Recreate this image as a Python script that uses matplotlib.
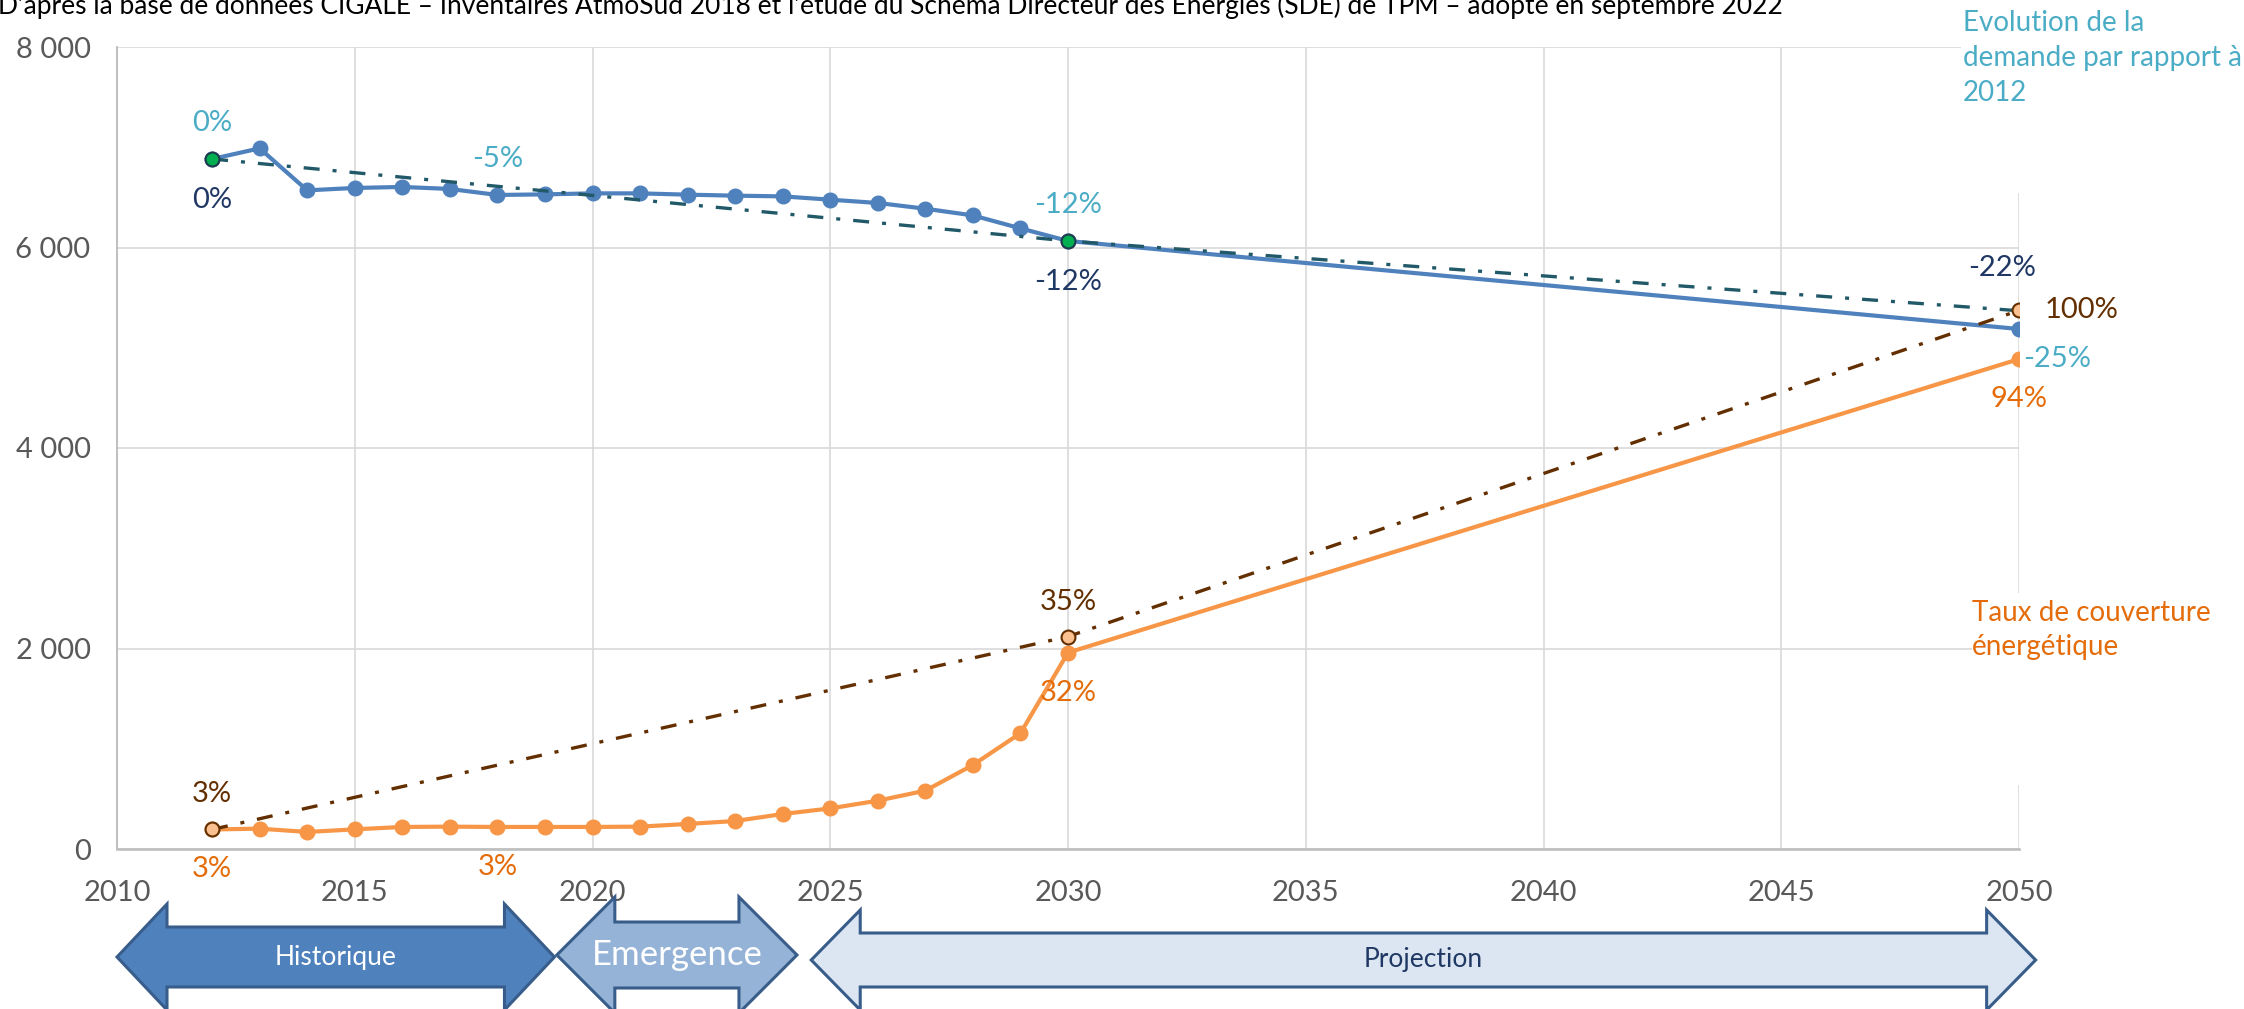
import matplotlib
matplotlib.use("Agg")
import matplotlib.pyplot as plt
from matplotlib.patches import Polygon, Rectangle
from matplotlib.ticker import FuncFormatter, MultipleLocator

plt.rcParams["font.family"] = ["Lato", "DejaVu Sans"]

# Data
years = [2012, 2013, 2014, 2015, 2016, 2017, 2018, 2019, 2020, 2021,
         2022, 2023, 2024, 2025, 2026, 2027, 2028, 2029, 2030, 2050]
demand = [6883, 6989, 6570, 6594, 6604, 6584, 6524, 6530, 6540, 6540,
          6527, 6517, 6510, 6477, 6444, 6387, 6320, 6191, 6065, 5187]
production = [195, 203, 170, 196, 220, 223, 220, 220, 220, 223,
              250, 279, 349, 405, 482, 582, 838, 1155, 1959, 4887]

target_years = [2012, 2030, 2050]
demand_target = [6883, 6065, 5369]
production_target = [195, 2119, 5372]

demand_labels = {2012: "0%", 2018: "-5%", 2030: "-12%", 2050: "-25%"}
demand_target_labels = {2012: "0%", 2030: "-12%", 2050: "-22%"}
production_labels = {2012: "3%", 2018: "3%", 2030: "32%", 2050: "94%"}
production_target_labels = {2012: "3%", 2030: "35%", 2050: "100%"}

phases = ["Historique", "Emergence", "Projection"]
phase_start = [2010.0, 2019.25, 2024.6]
phase_end = [2019.2, 2024.3, 2050.35]

title = ("D\u2019après la base de données CIGALE \u2013 Inventaires AtmoSud 2018 et l\u2019étude du "
         "Schéma Directeur des Energies (SDE) de TPM \u2013 adopté en septembre 2022")

W, H = 2244, 1009
fig = plt.figure(figsize=(W / 100, H / 100), dpi=100)
ax_left, ax_right, ax_top, ax_bottom = 117, 2019, 47, 849
ax = fig.add_axes([ax_left / W, 1 - ax_bottom / H,
                   (ax_right - ax_left) / W, (ax_bottom - ax_top) / H])

blue, orange = "#4F81BD", "#F79646"
teal, brown = "#215968", "#632F00"
light_blue, navy, dark_orange = "#4BACC6", "#203864", "#E46C0A"
dashdot = (0, (4.8, 3.9, 1.2, 3.9))
fs = 21

ax.plot(years, demand, color=blue, lw=3, marker="o", ms=10.5, zorder=3)
ax.plot(years, production, color=orange, lw=3, marker="o", ms=10.5, zorder=3)
ax.plot(target_years, demand_target, color=teal, lw=2.4, ls=dashdot, zorder=4,
        marker="o", ms=10, mfc="#00B050", mec="#1F3B4D", mew=1.5, markevery=[0, 1])
ax.plot(target_years, production_target, color=brown, lw=2.4, ls=dashdot, zorder=5,
        marker="o", ms=10, mfc="#FAC090", mec=brown, mew=1.5)

ax.set_xlim(2010, 2050)
ax.set_ylim(0, 8000)
ax.xaxis.set_major_locator(MultipleLocator(5))
ax.yaxis.set_major_locator(MultipleLocator(2000))
ax.yaxis.set_major_formatter(FuncFormatter(lambda v, p: f"{int(v):,}".replace(",", " ")))
ax.tick_params(length=0, labelsize=fs, labelcolor="#595959")
ax.tick_params(axis="y", pad=19)
ax.tick_params(axis="x", pad=22)
ax.grid(color="#D9D9D9", lw=1.2)
ax.set_axisbelow(True)
for side in ["top", "right"]:
    ax.spines[side].set_visible(False)
ax.spines["left"].set_color("#BFBFBF")
ax.spines["left"].set_linewidth(1.4)
ax.spines["bottom"].set_color("#BFBFBF")
ax.spines["bottom"].set_linewidth(1.9)


def put_labels(xs, ys, labels, color, offsets, ha="center"):
    for x, y in zip(xs, ys):
        if x in labels:
            dx, dy = offsets.get(x, offsets["default"])
            ax.annotate(labels[x], (x, y), xytext=(dx, dy), textcoords="offset pixels",
                        ha=ha, va="center", fontsize=fs, color=color, zorder=6)


put_labels(years, demand, demand_labels, light_blue, {"default": (0, 36)})
put_labels(target_years, demand_target, demand_target_labels, navy,
           {"default": (0, -41), 2050: (-17, 43)})
put_labels(years, production, production_labels, dark_orange, {"default": (0, -40)})
put_labels(target_years, production_target, production_target_labels, brown,
           {"default": (0, 35)})
for t in ax.texts:
    if t.get_text() == "-25%" and t.xy[0] == 2050:
        t.set_position((4, -30))
        t.set_ha("left")
    if t.get_text() == "100%":
        t.set_position((26, 0))
        t.set_ha("left")

# white boxes behind the side notes
fig.add_artist(Rectangle((1961 / W, 1 - 193 / H), 1, 193 / H, transform=fig.transFigure,
                         facecolor="white", edgecolor="none", zorder=1))
fig.add_artist(Rectangle((1972 / W, 1 - 785 / H), 1, (785 - 593) / H, transform=fig.transFigure,
                         facecolor="white", edgecolor="none", zorder=1))
fig.text(1963 / W, 1 - 58 / H, "Evolution de la\ndemande par rapport à\n2012",
         ha="left", va="center", fontsize=20, color=light_blue, linespacing=1.42, zorder=3)
fig.text(1972 / W, 1 - 630 / H, "Taux de couverture\nénergétique",
         ha="left", va="center", fontsize=20, color=dark_orange, linespacing=1.42, zorder=3)

fig.text(-2 / W, 1 - 14 / H, title, ha="left", va="baseline", fontsize=19, color="black")

# phase arrows under the axis
phase_fill = ["#4F81BD", "#95B3D7", "#DCE6F2"]
phase_color = ["white", "white", "#1F3864"]
phase_size = [19, 25, 19]
phase_geom = [(957, 53, 30, 50), (955, 58, 33, 58), (960, 50, 27, 49)]


def year_px(yr):
    return ax_left + (yr - 2010) / 40 * (ax_right - ax_left)


for name, x0, x1, fill, tc, size, (yc, hh, bh, hl) in zip(
        phases, phase_start, phase_end, phase_fill, phase_color, phase_size, phase_geom):
    a, b = year_px(x0), year_px(x1)
    pts = [(a, yc), (a + hl, yc - hh), (a + hl, yc - bh), (b - hl, yc - bh),
           (b - hl, yc - hh), (b, yc), (b - hl, yc + hh), (b - hl, yc + bh),
           (a + hl, yc + bh), (a + hl, yc + hh)]
    pts = [(px / W, 1 - py / H) for px, py in pts]
    fig.add_artist(Polygon(pts, closed=True, transform=fig.transFigure,
                           facecolor=fill, edgecolor="#385D8A", lw=2.2, zorder=2))
    fig.text((a + b) / 2 / W, 1 - yc / H, name, ha="center", va="center",
             fontsize=size, color=tc, zorder=3)

fig.savefig("out.png", dpi=100)
plt.close(fig)
